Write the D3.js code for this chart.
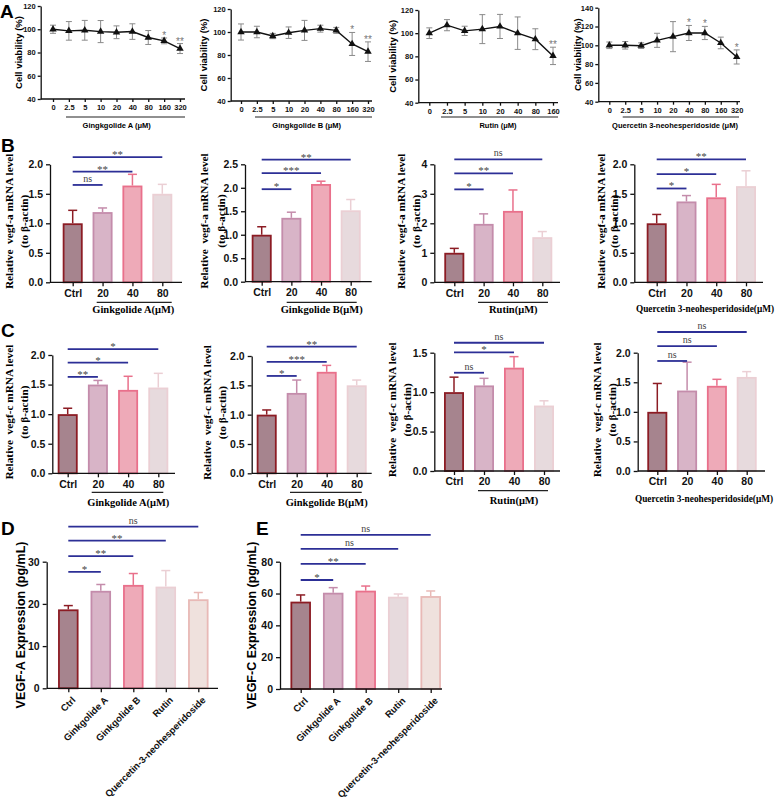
<!DOCTYPE html>
<html>
<head>
<meta charset="utf-8">
<script src="https://cdn.jsdelivr.net/npm/d3@7"></script>
<style>
  body { margin: 0; background: #fff; }
  svg { display: block; }
  .axis path, .axis line { stroke: #111; stroke-width: 1.3; }
  .axis text { font-family: "Liberation Sans", Arial, sans-serif; font-weight: bold; fill: #111; }
</style>
</head>
<body>
<svg id="fig" width="779" height="801"></svg>
<script>
// ---------- data ----------
const dosesFull = ["0", "2.5", "5", "10", "20", "40", "80", "160", "320"];
const dosesRutin = ["0", "2.5", "5", "10", "20", "40", "80", "160"];

const viabGA = [100, 98.6, 99.1, 98.0, 97.4, 98.0, 92.9, 90.0, 83.4];
const viabGAErr = [3.5, 8.0, 8.5, 9.5, 5.5, 6.7, 6.0, 2.5, 4.3];
const viabGASig = ["", "", "", "", "", "", "", "*", "**"];
const viabGB = [100, 100, 96.5, 99.4, 101.4, 102.9, 101.4, 89.6, 82.9];
const viabGBErr = [7.0, 5.0, 2.3, 5.0, 8.7, 3.0, 2.6, 10.0, 8.5];
const viabGBSig = ["", "", "", "", "", "", "", "*", "**"];
const viabRutin = [100, 106.9, 102.0, 103.5, 105.8, 100, 94.8, 80.4];
const viabRutinErr = [4.6, 4.8, 4.0, 12.5, 10.4, 14.0, 9.0, 7.5];
const viabRutinSig = ["", "", "", "", "", "", "", "**"];
const viabQ = [100, 100, 99.6, 105.3, 109.2, 113.1, 113.1, 102.5, 87.6];
const viabQErr = [3.5, 4.0, 3.0, 7.5, 16.0, 8.0, 7.0, 6.2, 7.5];
const viabQSig = ["", "", "", "", "", "*", "*", "", "*"];

const mrnaGroups = ["Ctrl", "20", "40", "80"];
const vegfaGA = [1.0, 1.19, 1.64, 1.50];
const vegfaGAErr = [0.22, 0.07, 0.19, 0.16];
const vegfaGB = [1.0, 1.36, 2.08, 1.52];
const vegfaGBErr = [0.17, 0.12, 0.06, 0.23];
const vegfaRutin = [1.0, 1.98, 2.42, 1.53];
const vegfaRutinErr = [0.15, 0.34, 0.71, 0.19];
const vegfaQ = [1.0, 1.37, 1.44, 1.63];
const vegfaQErr = [0.15, 0.10, 0.22, 0.26];

const vegfcGA = [1.0, 1.50, 1.41, 1.45];
const vegfcGAErr = [0.10, 0.07, 0.23, 0.24];
const vegfcGB = [1.0, 1.37, 1.73, 1.50];
const vegfcGBErr = [0.08, 0.22, 0.11, 0.09];
const vegfcRutin = [1.0, 1.085, 1.31, 0.83];
const vegfcRutinErr = [0.19, 0.09, 0.14, 0.06];
const vegfcQ = [1.0, 1.36, 1.44, 1.59];
const vegfcQErr = [0.48, 0.48, 0.11, 0.09];

const elisaGroups = ["Ctrl", "Ginkgolide A", "Ginkgolide B", "Rutin", "Quercetin-3-neohesperidoside"];
const vegfaElisa = [18.7, 23.1, 24.5, 24.1, 21.1];
const vegfaElisaErr = [0.9, 1.5, 2.7, 3.8, 1.6];
const vegfcElisa = [54.9, 60.5, 61.8, 58.0, 58.4];
const vegfcElisaErr = [4.2, 3.2, 2.9, 1.7, 3.2];

// significance: [target group, label, bracket height in data units]
const sigB1 = [["20", "ns", 1.65], ["40", "**", 1.875], ["80", "**", 2.12]];
const sigB2 = [["20", "*", 1.97], ["40", "***", 2.31], ["80", "**", 2.60]];
const sigB3 = [["20", "*", 3.15], ["40", "**", 3.69], ["80", "ns", 4.17]];
const sigB4 = [["20", "*", 1.59], ["40", "*", 1.835], ["80", "**", 2.085]];
const sigC1 = [["20", "**", 1.63], ["40", "*", 1.87], ["80", "*", 2.10]];
const sigC2 = [["20", "*", 1.66], ["40", "***", 1.90], ["80", "**", 2.16]];
const sigC3 = [["20", "ns", 1.246], ["40", "*", 1.504], ["80", "ns", 1.626]];
const sigC4 = [["20", "ns", 1.86], ["40", "ns", 2.11], ["80", "ns", 2.35]];
const sigD = [["Ginkgolide A", "*", 27.6], ["Ginkgolide B", "**", 31.3], ["Rutin", "**", 35.0], ["Quercetin-3-neohesperidoside", "ns", 38.3]];
const sigE = [["Ginkgolide A", "*", 68.5], ["Ginkgolide B", "**", 78.6], ["Rutin", "ns", 88.0], ["Quercetin-3-neohesperidoside", "ns", 96.9]];

const barFill = ["#a6848e", "#d8b4c7", "#eeaab8", "#e7dadd", "#efe1dd"];
const barStroke = ["#8c1c24", "#c48cab", "#e9708b", "#ebcfd4", "#e8b9b6"];
const sigColor = "#2c2f96";

const svg = d3.select("#fig");
const SANS = "'Liberation Sans', Arial, sans-serif";
const SERIF = "'Liberation Serif', 'Times New Roman', serif";

// ---------- row A: viability line charts ----------
const lineSpecs = [
  { xs: dosesFull, vals: viabGA, errs: viabGAErr, sig: viabGASig, xlabel: "Gingkgolide A (μM)",
    dom: [40, 120], ticks: [40, 60, 80, 100, 120], ax: 40.7, axEnd: 185, first: 53, last: 180, top: 6, bot: 99,
    ylabX: 18, ul: [66, 185], labX: 116.7 },
  { xs: dosesFull, vals: viabGB, errs: viabGBErr, sig: viabGBSig, xlabel: "Gingkgolide B (μM)",
    dom: [40, 120], ticks: [40, 60, 80, 100, 120], ax: 230.7, axEnd: 372, first: 241, last: 368, top: 9, bot: 101,
    ylabX: 203, ul: [255, 372], labX: 306.7 },
  { xs: dosesRutin, vals: viabRutin, errs: viabRutinErr, sig: viabRutinSig, xlabel: "Rutin (μM)",
    dom: [40, 120], ticks: [40, 60, 80, 100, 120], ax: 418.3, axEnd: 558, first: 429.3, last: 553, top: 10, bot: 102.7,
    ylabX: 392, ul: [441, 558], labX: 498 },
  { xs: dosesFull, vals: viabQ, errs: viabQErr, sig: viabQSig, xlabel: "Quercetin 3-neohesperidoside (μM)",
    dom: [40, 140], ticks: [40, 60, 80, 100, 120, 140], ax: 598.3, axEnd: 740, first: 609.3, last: 736.7, top: 7.7, bot: 101.7,
    ylabX: 577, ul: [622.7, 739], labX: 675 }
];

lineSpecs.forEach(s => {
  const g = svg.append("g");
  const x = d3.scalePoint().domain(s.xs).range([s.first, s.last]);
  const y = d3.scaleLinear().domain(s.dom).range([s.bot, s.top]);
  const pts = s.xs.map((d, i) => ({ k: d, v: s.vals[i], e: s.errs[i], s: s.sig[i] }));

  g.append("g").attr("class", "axis").attr("transform", `translate(${s.ax},0)`)
    .call(d3.axisLeft(y).tickValues(s.ticks).tickSize(3).tickPadding(2).tickSizeOuter(0))
    .call(a => a.selectAll("text").style("font-size", "7.5px"));
  const xa = g.append("g").attr("class", "axis").attr("transform", `translate(0,${s.bot})`)
    .call(d3.axisBottom(x).tickSize(3).tickSizeOuter(0))
    .call(a => a.selectAll("text").style("font-size", "7.5px").attr("y", 6));
  xa.select(".domain").remove();
  g.append("line").attr("x1", s.ax).attr("x2", s.axEnd).attr("y1", s.bot).attr("y2", s.bot)
    .attr("stroke", "#111").attr("stroke-width", 1.3);

  // error bars
  const eb = g.append("g").attr("stroke", "#8a8a8a").attr("stroke-width", 1);
  pts.forEach(p => {
    const cx = x(p.k);
    eb.append("line").attr("x1", cx).attr("x2", cx).attr("y1", y(p.v - p.e)).attr("y2", y(p.v + p.e));
    eb.append("line").attr("x1", cx - 3).attr("x2", cx + 3).attr("y1", y(p.v + p.e)).attr("y2", y(p.v + p.e));
    eb.append("line").attr("x1", cx - 3).attr("x2", cx + 3).attr("y1", y(p.v - p.e)).attr("y2", y(p.v - p.e));
  });
  g.append("path").datum(pts)
    .attr("d", d3.line().x(p => x(p.k)).y(p => y(p.v)))
    .attr("fill", "none").attr("stroke", "#111").attr("stroke-width", 1.4);
  g.selectAll(".mk").data(pts).join("path")
    .attr("transform", p => `translate(${x(p.k)},${y(p.v)})`)
    .attr("d", d3.symbol(d3.symbolTriangle, 24)).attr("fill", "#111");
  g.selectAll(".st").data(pts.filter(p => p.s)).join("text")
    .attr("x", p => x(p.k)).attr("y", p => y(p.v + p.e) + 1)
    .attr("text-anchor", "middle").style("font-family", SANS).style("font-size", "10px").attr("fill", "#777")
    .text(p => p.s);

  g.append("line").attr("x1", s.ul[0]).attr("x2", s.ul[1]).attr("y1", 117).attr("y2", 117)
    .attr("stroke", "#222").attr("stroke-width", 1.2);
  g.append("text").attr("x", s.labX).attr("y", 128).attr("text-anchor", "middle")
    .style("font-family", SANS).style("font-size", "7.5px").style("font-weight", "bold").text(s.xlabel);
  g.append("text").attr("transform", `translate(${s.ylabX + 3.5},${(s.top + s.bot) / 2}) rotate(-90)`)
    .attr("text-anchor", "middle").style("font-family", SANS).style("font-size", "9.5px").style("font-weight", "bold")
    .text("Cell viability (%)");
});

// ---------- rows B-E: bar charts ----------
function barPanel(s) {
  const g = svg.append("g");
  const x = d3.scalePoint().domain(s.groups).range([s.c0, s.c1]);
  const y = d3.scaleLinear().domain(s.dom).range([s.bot, s.top]);
  const bw = s.bw || 20;
  const rows = s.groups.map((k, i) => ({ k, v: s.vals[i], e: s.errs[i], i }));

  // error bars (upper only)
  rows.forEach(r => {
    const cx = x(r.k);
    g.append("line").attr("x1", cx).attr("x2", cx).attr("y1", y(r.v)).attr("y2", y(r.v + r.e))
      .attr("stroke", barStroke[r.i]).attr("stroke-width", 1.5);
    g.append("line").attr("x1", cx - 4.5).attr("x2", cx + 4.5).attr("y1", y(r.v + r.e)).attr("y2", y(r.v + r.e))
      .attr("stroke", barStroke[r.i]).attr("stroke-width", 1.5);
  });
  g.selectAll(".bar").data(rows).join("rect")
    .attr("x", r => x(r.k) - bw / 2 + 0.9).attr("y", r => y(r.v) + 0.9)
    .attr("width", bw - 1.8).attr("height", r => y(0) - y(r.v) - 0.9)
    .attr("fill", r => barFill[r.i]).attr("stroke", r => barStroke[r.i]).attr("stroke-width", 1.8);

  // axes
  g.append("g").attr("class", "axis").attr("transform", `translate(${s.ax},0)`)
    .call(d3.axisLeft(y).tickValues(s.ticks).tickFormat(s.fmt).tickSize(4).tickSizeOuter(0))
    .call(a => a.selectAll("text").style("font-size", "10.5px"));
  const xa = g.append("g").attr("class", "axis").attr("transform", `translate(0,${s.bot})`)
    .call(d3.axisBottom(x).tickSize(4).tickSizeOuter(0))
    .call(a => a.selectAll("text").style("font-size", "10.5px").attr("y", 7));
  xa.select(".domain").remove();
  if (s.rotate) {
    xa.selectAll("text").attr("x", 0).attr("y", 0).attr("dy", "0.35em")
      .attr("transform", "translate(5,10) rotate(-45)").style("text-anchor", "end").style("font-size", "9.5px");
  }
  g.append("line").attr("x1", s.ax).attr("x2", s.axEnd).attr("y1", s.bot).attr("y2", s.bot)
    .attr("stroke", "#111").attr("stroke-width", 1.3);

  // significance brackets
  s.sig.forEach(([to, lab, h]) => {
    const yy = y(h);
    g.append("line").attr("x1", x(s.groups[0])).attr("x2", x(to)).attr("y1", yy).attr("y2", yy)
      .attr("stroke", sigColor).attr("stroke-width", 1.8);
    g.append("text").attr("x", (x(s.groups[0]) + x(to)) / 2).attr("y", lab === "ns" ? yy - 3 : yy + 1)
      .attr("text-anchor", "middle").style("font-family", SERIF).style("font-size", lab === "ns" ? "10px" : "11px")
      .attr("fill", "#444").text(lab);
  });

  // titles
  if (s.ul) {
    g.append("line").attr("x1", s.ul[0]).attr("x2", s.ul[1]).attr("y1", s.ulY).attr("y2", s.ulY)
      .attr("stroke", "#222").attr("stroke-width", 1.2);
  }
  if (s.xlabel) {
    g.append("text").attr("x", s.labX).attr("y", s.labY).attr("text-anchor", "middle")
      .style("font-family", SERIF).style("font-size", s.labSize || "10.5px").style("font-weight", "bold").text(s.xlabel);
  }
  const mid = (s.top + s.bot) / 2 - 2;
  if (s.ylab2) {
    g.append("text").attr("transform", `translate(${s.ylabX[0] + 4.5},${mid}) rotate(-90)`)
      .attr("text-anchor", "middle").style("font-family", SERIF).style("font-size", "11.3px").style("font-weight", "bold")
      .style("white-space", "pre").text(s.ylab1);
    g.append("text").attr("transform", `translate(${s.ylabX[1] + 4.5},${mid}) rotate(-90)`)
      .attr("text-anchor", "middle").style("font-family", SERIF).style("font-size", "11.3px").style("font-weight", "bold")
      .text(s.ylab2);
  } else {
    g.append("text").attr("transform", `translate(${s.ylabX[0] + 4.5},${mid + 2}) rotate(-90)`)
      .attr("text-anchor", "middle").style("font-family", SANS).style("font-size", "12.5px").style("font-weight", "bold")
      .text(s.ylab1);
  }
}

const f1 = d3.format(".1f"), f0 = d3.format("d");
const ticks2 = [0, 0.5, 1, 1.5, 2];
const labA = "Relative  vegf-a mRNA level", labC = "Relative  vegf-c mRNA level", labAct = "(to β-actin)";

[
  { groups: mrnaGroups, vals: vegfaGA, errs: vegfaGAErr, sig: sigB1, dom: [0, 2], ticks: ticks2, fmt: f1,
    ax: 50, axEnd: 182, c0: 72.7, c1: 162.3, top: 164.3, bot: 282.3, ylab1: labA, ylab2: labAct, ylabX: [8.3, 23.3],
    ul: [96.7, 171.7], ulY: 302.3, xlabel: "Ginkgolide A(μM)", labX: 133.3, labY: 313 },
  { groups: mrnaGroups, vals: vegfaGB, errs: vegfaGBErr, sig: sigB2, dom: [0, 2.5], ticks: [0, 0.5, 1, 1.5, 2, 2.5], fmt: f1,
    ax: 245, axEnd: 371.7, c0: 261.7, c1: 350.7, top: 164.3, bot: 281.7, ylab1: labA, ylab2: labAct, ylabX: [203, 220],
    ul: [286.7, 356.7], ulY: 302.3, xlabel: "Ginkgolide B(μM)", labX: 321.7, labY: 313 },
  { groups: mrnaGroups, vals: vegfaRutin, errs: vegfaRutinErr, sig: sigB3, dom: [0, 4], ticks: [0, 1, 2, 3, 4], fmt: f0,
    ax: 434.3, axEnd: 560, c0: 454.3, c1: 542.3, top: 164.3, bot: 282.3, ylab1: labA, ylab2: labAct, ylabX: [400, 415],
    ul: [478, 548], ulY: 302.3, xlabel: "Rutin(μM)", labX: 513.3, labY: 313 },
  { groups: mrnaGroups, vals: vegfaQ, errs: vegfaQErr, sig: sigB4, dom: [0, 2], ticks: ticks2, fmt: f1,
    ax: 634.3, axEnd: 763, c0: 656.7, c1: 746, top: 164.3, bot: 282.3, ylab1: labA, ylab2: labAct, ylabX: [600, 613],
    xlabel: "Quercetin 3-neohesperidoside(μM)", labX: 705, labY: 312, labSize: "9.3px" },
  { groups: mrnaGroups, vals: vegfcGA, errs: vegfcGAErr, sig: sigC1, dom: [0, 2], ticks: ticks2, fmt: f1,
    ax: 52.3, axEnd: 175, c0: 67.7, c1: 158.3, top: 355, bot: 473.3, ylab1: labC, ylab2: labAct, ylabX: [8.3, 23.3],
    ul: [91.7, 163.3], ulY: 492.3, xlabel: "Ginkgolide A(μM)", labX: 128.3, labY: 505.5 },
  { groups: mrnaGroups, vals: vegfcGB, errs: vegfcGBErr, sig: sigC2, dom: [0, 2], ticks: ticks2, fmt: f1,
    ax: 251.7, axEnd: 371.7, c0: 266.7, c1: 356.7, top: 356, bot: 473.3, ylab1: labC, ylab2: labAct, ylabX: [206.7, 221.7],
    ul: [290, 361.7], ulY: 492.3, xlabel: "Ginkgolide B(μM)", labX: 326.7, labY: 505.5 },
  { groups: mrnaGroups, vals: vegfcRutin, errs: vegfcRutinErr, sig: sigC3, dom: [0, 1.5], ticks: [0, 0.5, 1, 1.5], fmt: f1,
    ax: 434.3, axEnd: 560, c0: 454, c1: 544, top: 352.7, bot: 471, ylab1: labC, ylab2: labAct, ylabX: [391.7, 406.7],
    ul: [478, 548], ulY: 490.7, xlabel: "Rutin(μM)", labX: 514, labY: 504 },
  { groups: mrnaGroups, vals: vegfcQ, errs: vegfcQErr, sig: sigC4, dom: [0, 2], ticks: ticks2, fmt: f1,
    ax: 637.7, axEnd: 765, c0: 657.3, c1: 746.7, top: 352.7, bot: 471, ylab1: labC, ylab2: labAct, ylabX: [596.7, 611.7],
    xlabel: "Quercetin 3-neohesperidoside(μM)", labX: 704, labY: 502, labSize: "9.3px" },
  { groups: elisaGroups, vals: vegfaElisa, errs: vegfaElisaErr, sig: sigD, dom: [0, 30], ticks: [0, 10, 20, 30], fmt: f0,
    ax: 46.7, axEnd: 218, c0: 68.3, c1: 198.3, top: 561.7, bot: 688.3, ylab1: "VEGF-A Expression (pg/mL)", ylabX: [20],
    rotate: true, bw: 20.5 },
  { groups: elisaGroups, vals: vegfcElisa, errs: vegfcElisaErr, sig: sigE, dom: [0, 80], ticks: [0, 20, 40, 60, 80], fmt: f0,
    ax: 280, axEnd: 442, c0: 300.7, c1: 430.7, top: 561.7, bot: 689, ylab1: "VEGF-C Expression (pg/mL)", ylabX: [251.7],
    rotate: true, bw: 20.5 }
].forEach(barPanel);

// panel letters
[["A", 0, 18], ["B", 1, 152], ["C", 1, 337], ["D", 1, 535], ["E", 256, 535]].forEach(([t, x, y]) => {
  svg.append("text").attr("x", x).attr("y", y).style("font-family", SANS).style("font-size", "19px")
    .style("font-weight", "bold").text(t);
});
</script>
</body>
</html>
